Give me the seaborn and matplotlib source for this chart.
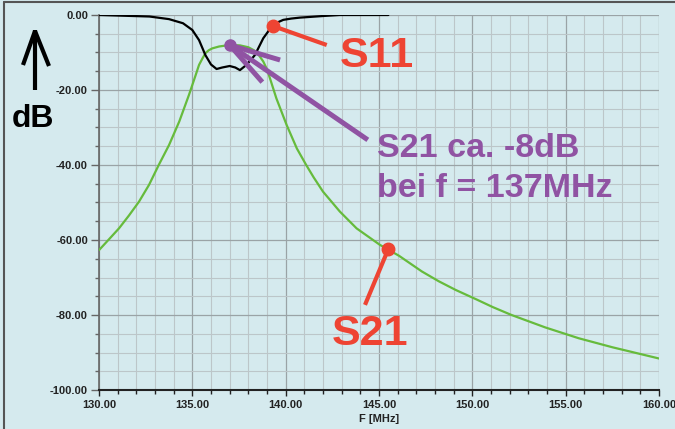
import numpy as np
import pandas as pd
import matplotlib
matplotlib.use("Agg")
import matplotlib.pyplot as plt
from matplotlib.lines import Line2D
from matplotlib.ticker import MultipleLocator, FormatStrFormatter
import seaborn as sns

# ---- data ----
s21_freq = [130, 130.5, 131.07, 131.6, 132.14, 132.68, 133.2, 133.75, 134.3, 134.82,
            135.18, 135.36, 135.54, 135.7, 135.88, 136.07, 136.43, 137.0, 137.55,
            138.0, 138.3, 138.55, 138.8, 139.0, 139.16, 139.5, 140.05, 140.6,
            141.1, 141.5, 142.0, 142.9, 143.8, 145.05, 145.54, 146.07, 147.3, 148.2,
            149.1, 150.2, 151.1, 152.1, 153.9, 155.7, 157.5, 160]
s21_db = [-62.7, -60.0, -56.9, -53.5, -49.8, -45.3, -40.0, -34.7, -28.4, -21.3,
          -16.0, -13.3, -11.6, -10.2, -9.4, -8.9, -8.4, -8.0, -8.1,
          -8.6, -9.4, -10.6, -12.4, -14.5, -16.9, -22.2, -29.3, -35.6,
          -40.0, -43.3, -47.1, -52.4, -56.9, -61.3, -62.7, -64.2, -68.4, -71.0,
          -73.3, -75.8, -77.9, -80.0, -83.3, -86.2, -88.6, -91.6]

s11_freq = [130, 132.7, 133.75, 134.5, 135.0, 135.36, 135.7, 136.0, 136.3, 136.6,
            137.0, 137.3, 137.55, 137.9, 138.35, 138.8, 139.25, 139.6, 139.87,
            140.3, 140.76, 142.0, 142.9, 145.5]
s11_db = [0.0, -0.4, -1.1, -2.2, -4.0, -6.7, -10.7, -13.2, -14.4, -14.0,
          -13.6, -14.0, -14.7, -13.3, -10.7, -6.2, -3.1, -1.9, -1.3,
          -0.95, -0.7, -0.27, 0.0, 0.0]

x_ticks = [130, 135, 140, 145, 150, 155, 160]
y_ticks = [0, -20, -40, -60, -80, -100]

# annotation anchors (data coords)
s11_marker = (139.3, -2.9)
s11_line_end = (142.2, -8.0)
s21_marker = (145.5, -62.4)
s21_line_end = (144.25, -77.3)
peak_marker = (137.0, -8.0)
peak_line_ends = [(139.7, -12.0), (138.75, -17.9), (144.4, -33.3)]

BG = "#d5eaee"
GREEN = "#66bb3c"
RED = "#ee4433"
PURPLE = "#9053a3"

sns.set_theme(style="white")
plt.rcParams["font.family"] = ["Liberation Sans", "DejaVu Sans"]

fig = plt.figure(figsize=(6.75, 4.29), dpi=100, facecolor=BG)
ax = fig.add_axes([99 / 675, 1 - 390 / 429, 560 / 675, 375 / 429])
ax.set_facecolor(BG)

df21 = pd.DataFrame({"f": s21_freq, "db": s21_db})
df11 = pd.DataFrame({"f": s11_freq, "db": s11_db})
sns.lineplot(data=df21, x="f", y="db", ax=ax, color=GREEN, lw=1.6, zorder=3)
sns.lineplot(data=df11, x="f", y="db", ax=ax, color="black", lw=1.6, zorder=4)

ax.set_xlim(130, 160)
ax.set_ylim(-100, 0)
ax.xaxis.set_major_locator(MultipleLocator(5))
ax.xaxis.set_minor_locator(MultipleLocator(1))
ax.yaxis.set_major_locator(MultipleLocator(20))
ax.yaxis.set_minor_locator(MultipleLocator(5))
ax.xaxis.set_major_formatter(FormatStrFormatter("%.2f"))
ax.yaxis.set_major_formatter(FormatStrFormatter("%.2f"))
ax.set_xticks(x_ticks)
ax.set_yticks(y_ticks)

ax.grid(which="major", color="#9aa3a6", lw=0.9, zorder=1)
ax.grid(which="minor", color="#bcc6c9", lw=0.8, zorder=1)
ax.set_axisbelow(True)

for s in ["top", "right"]:
    ax.spines[s].set_visible(False)
ax.spines["left"].set_color("#666666")
ax.spines["left"].set_linewidth(1.2)
ax.spines["bottom"].set_color("#222222")
ax.spines["bottom"].set_linewidth(1.5)

ax.tick_params(axis="y", which="major", length=6, width=1, color="#666666",
               labelsize=8, pad=2, labelcolor="#222222", left=True)
ax.tick_params(axis="y", which="minor", length=3, width=1, color="#666666", left=True)
ax.tick_params(axis="x", which="major", length=4, width=1, color="#222222",
               labelsize=8, pad=3, labelcolor="#222222", bottom=True)
ax.tick_params(axis="x", which="minor", length=3, width=1, color="#222222", bottom=True)
for lab in ax.get_xticklabels() + ax.get_yticklabels():
    lab.set_fontweight("bold")

ax.set_xlabel("F [MHz]", fontsize=8, fontweight="bold", color="#222222", labelpad=3)
ax.set_ylabel("")

# ---- annotations ----
ax.plot([s11_marker[0], s11_line_end[0]], [s11_marker[1], s11_line_end[1]],
        color=RED, lw=3, solid_capstyle="butt", zorder=6, clip_on=False)
ax.plot([s11_marker[0]], [s11_marker[1]], "o", color=RED, ms=9, zorder=7, clip_on=False)
ax.plot([s21_marker[0], s21_line_end[0]], [s21_marker[1], s21_line_end[1]],
        color=RED, lw=3, solid_capstyle="butt", zorder=6)
ax.plot([s21_marker[0]], [s21_marker[1]], "o", color=RED, ms=9, zorder=7)
for end in peak_line_ends:
    ax.plot([peak_marker[0], end[0]], [peak_marker[1], end[1]], color=PURPLE,
            lw=3.6, solid_capstyle="butt", zorder=6)
ax.plot([peak_marker[0]], [peak_marker[1]], "o", color=PURPLE, ms=8, zorder=7)

ax.text(142.91, -13.9, "S11", color=RED, fontsize=31, fontweight="bold",
        ha="left", va="baseline", zorder=8)
ax.text(142.48, -88.0, "S21", color=RED, fontsize=31, fontweight="bold",
        ha="left", va="baseline", zorder=8)
ax.text(144.89, -37.9, "S21 ca. -8dB", color=PURPLE, fontsize=24.5, fontweight="bold",
        ha="left", va="baseline", zorder=8)
ax.text(144.89, -48.5, "bei f = 137MHz", color=PURPLE, fontsize=24.5, fontweight="bold",
        ha="left", va="baseline", zorder=8)

# "dB" label with arrow on the left
W, H = 675, 429
def fx(px):
    return px / W
def fy(py):
    return 1 - py / H

fig.text(fx(12), fy(127), "dB", fontsize=23, fontweight="bold", color="black",
         ha="left", va="baseline")
for (x0, y0, x1, y1) in [(35, 90, 35, 30), (23, 65, 35, 31), (49, 66, 35, 31)]:
    fig.add_artist(Line2D([fx(x0), fx(x1)], [fy(y0), fy(y1)], color="black", lw=3,
                          solid_capstyle="butt", transform=fig.transFigure))

# frame at left and top of the screenshot
fig.add_artist(Line2D([fx(3.5), fx(3.5)], [0, fy(2)], color="#555555", lw=1.5,
                      transform=fig.transFigure))
fig.add_artist(Line2D([fx(3.5), 1], [fy(2), fy(2)], color="#555555", lw=1.5,
                      transform=fig.transFigure))

fig.savefig("out.png", dpi=100, facecolor=BG)
